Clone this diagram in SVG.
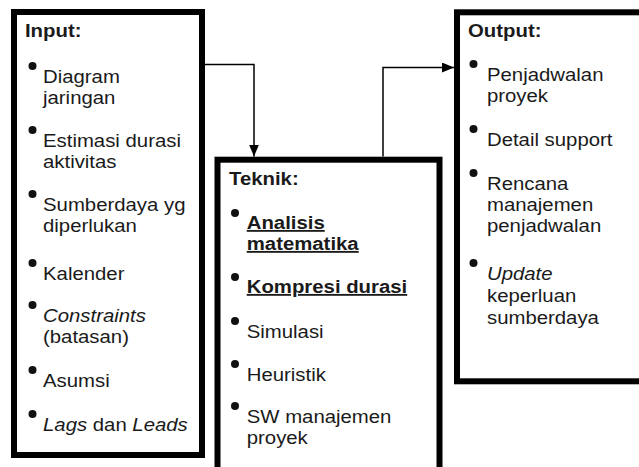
<svg xmlns="http://www.w3.org/2000/svg" width="639" height="467" viewBox="0 0 639 467">
  <style>
    .box { fill: #ffffff; stroke: #000000; stroke-width: 6; }
    .link { fill: none; stroke: #000000; stroke-width: 1.5; }
    .t { font-family: "Liberation Sans", Arial, sans-serif; font-size: 18.5px; fill: #1a1a1a; }
    .h { font-weight: bold; }
    .u { font-weight: bold; text-decoration: underline; }
    .i { font-style: italic; }
    .dot { fill: #111111; }
  </style>
  <defs>
    <marker id="arrow" viewBox="0 0 12 10" refX="12" refY="5" markerWidth="12" markerHeight="10" markerUnits="userSpaceOnUse" orient="auto">
      <path d="M0,0 L12,5 L0,10 Z" fill="#000000"/>
    </marker>
  </defs>

  <rect width="639" height="467" fill="#ffffff"/>

  <!-- connectors -->
  <g id="connectors">
    <path class="link" d="M205,64.5 H254 V156.5" marker-end="url(#arrow)"/>
    <path class="link" d="M383,156.5 V67.5 H454" marker-end="url(#arrow)"/>
  </g>

  <!-- Input -->
  <g id="input">
    <rect class="box" x="14" y="12" width="188" height="443"/>
    <g class="dot">
      <circle cx="32.5" cy="66" r="4"/>
      <circle cx="32.5" cy="130" r="4"/>
      <circle cx="32.5" cy="194" r="4"/>
      <circle cx="32.5" cy="263" r="4"/>
      <circle cx="32.5" cy="305" r="4"/>
      <circle cx="32.5" cy="370" r="4"/>
      <circle cx="32.5" cy="414" r="4"/>
    </g>
    <g transform="scale(1.1 1)">
      <text class="t h" x="22.7" y="37.5">Input:</text>
      <text class="t" x="39.1" y="83">Diagram</text>
      <text class="t" x="39.1" y="104">jaringan</text>
      <text class="t" x="39.1" y="147">Estimasi durasi</text>
      <text class="t" x="39.1" y="168">aktivitas</text>
      <text class="t" x="39.1" y="211">Sumberdaya yg</text>
      <text class="t" x="39.1" y="232">diperlukan</text>
      <text class="t" x="39.1" y="280">Kalender</text>
      <text class="t" x="39.1" y="322"><tspan class="i">Constraints</tspan></text>
      <text class="t" x="39.1" y="343">(batasan)</text>
      <text class="t" x="39.1" y="387">Asumsi</text>
      <text class="t" x="39.1" y="431"><tspan class="i">Lags</tspan> dan <tspan class="i">Leads</tspan></text>
    </g>
  </g>

  <!-- Teknik -->
  <g id="teknik">
    <rect class="box" x="217.5" y="159.7" width="222" height="330"/>
    <g class="dot">
      <circle cx="235" cy="213" r="4"/>
      <circle cx="235" cy="277" r="4"/>
      <circle cx="235" cy="321" r="4"/>
      <circle cx="235" cy="364" r="4"/>
      <circle cx="235" cy="406" r="4"/>
    </g>
    <g transform="scale(1.1 1)">
      <text class="t h" x="208.2" y="185">Teknik:</text>
      <text class="t u" x="224.3" y="229">Analisis</text>
      <text class="t u" x="224.3" y="250">matematika</text>
      <text class="t u" x="224.3" y="293">Kompresi durasi</text>
      <text class="t" x="224.3" y="338">Simulasi</text>
      <text class="t" x="224.3" y="381">Heuristik</text>
      <text class="t" x="224.3" y="423">SW manajemen</text>
      <text class="t" x="224.3" y="444">proyek</text>
    </g>
  </g>

  <!-- Output -->
  <g id="output">
    <rect class="box" x="457" y="12.3" width="260" height="369"/>
    <g class="dot">
      <circle cx="473.5" cy="64" r="4"/>
      <circle cx="473.5" cy="129" r="4"/>
      <circle cx="473.5" cy="173" r="4"/>
      <circle cx="473.5" cy="263" r="4"/>
    </g>
    <g transform="scale(1.1 1)">
      <text class="t h" x="425.5" y="37">Output:</text>
      <text class="t" x="442.7" y="81">Penjadwalan</text>
      <text class="t" x="442.7" y="102">proyek</text>
      <text class="t" x="442.7" y="146">Detail support</text>
      <text class="t" x="442.7" y="190">Rencana</text>
      <text class="t" x="442.7" y="211">manajemen</text>
      <text class="t" x="442.7" y="232">penjadwalan</text>
      <text class="t" x="442.7" y="280"><tspan class="i">Update</tspan></text>
      <text class="t" x="442.7" y="302">keperluan</text>
      <text class="t" x="442.7" y="324">sumberdaya</text>
    </g>
  </g>
</svg>
